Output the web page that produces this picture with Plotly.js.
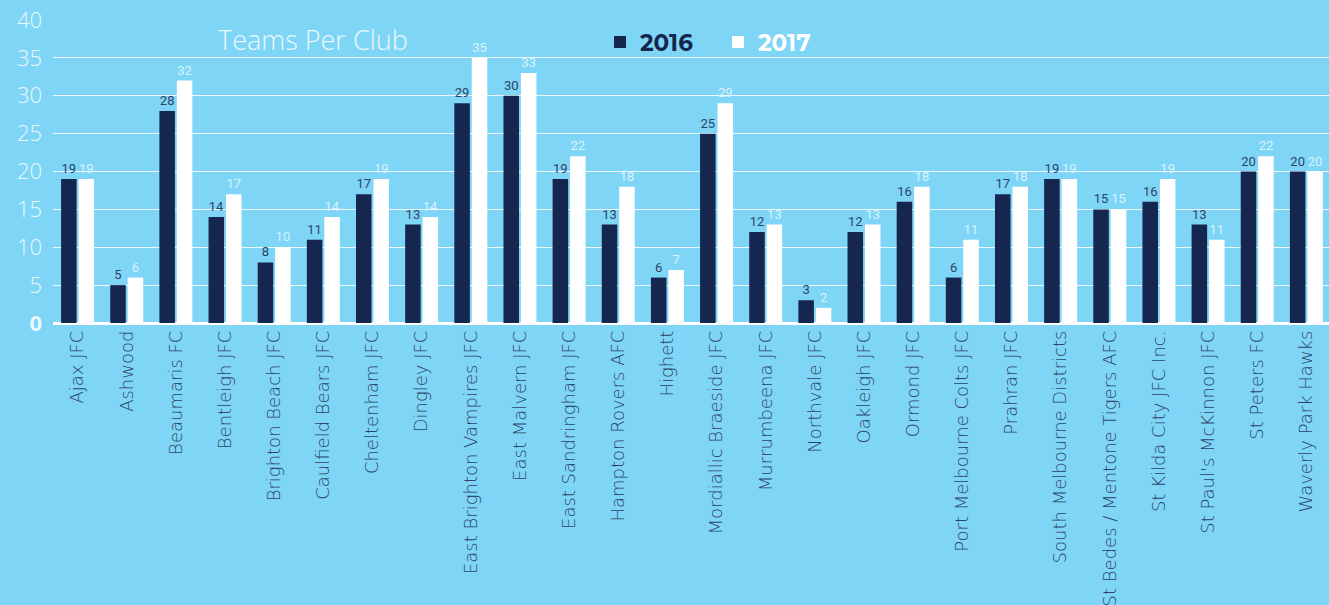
<!DOCTYPE html>
<html>
<head>
<meta charset="utf-8">
<script src="https://cdn.plot.ly/plotly-3.0.1.min.js"></script>
<style>html,body{margin:0;padding:0;background:#7fd5f6;}#chart{width:1329px;height:605px;}</style>
</head>
<body>
<div id="chart"></div>
<script>
const clubs = ["Ajax JFC","Ashwood","Beaumaris FC","Bentleigh JFC","Brighton Beach JFC","Caulfield Bears JFC","Cheltenham JFC","Dingley JFC","East Brighton Vampires JFC","East Malvern JFC","East Sandringham JFC","Hampton Rovers AFC","Highett","Mordiallic Braeside JFC","Murrumbeena JFC","Northvale JFC","Oakleigh JFC","Ormond JFC","Port Melbourne Colts JFC","Prahran JFC","South Melbourne Districts","St Bedes / Mentone Tigers AFC","St Kilda City JFC Inc.","St Paul's McKinnon JFC","St Peters FC","Waverly Park Hawks"];
const teams2016 = [19,5,28,14,8,11,17,13,29,30,19,13,6,25,12,3,12,16,6,17,19,15,16,13,20,20];
const teams2017 = [19,6,32,17,10,14,19,14,35,33,22,18,7,29,13,2,13,18,11,18,19,15,19,11,22,20];
const yTicks = [0,5,10,15,20,25,30,35,40];
const yTickText = ["<b>0</b>","5","10","15","20","25","30","35","40"];

const navy = "#15274f";
const bg = "#7fd5f6";

const traces = [
  {
    type: "bar", name: "<b>2016</b>", x: clubs, y: teams2016,
    marker: {color: navy},
    text: teams2016.map(String), textposition: "outside", cliponaxis: false,
    textfont: {family: "Roboto, sans-serif", size: 13, color: "#2d4468"}
  },
  {
    type: "bar", name: "<b><span style=\"color:#ffffff\">2017</span></b>", x: clubs, y: teams2017,
    marker: {color: "#ffffff"},
    text: teams2017.map(String), textposition: "outside", cliponaxis: false,
    textfont: {family: "Roboto, sans-serif", size: 13, color: "#d9f3fd"}
  }
];

const layout = {
  width: 1329, height: 605,
  paper_bgcolor: bg, plot_bgcolor: bg,
  margin: {l: 53, r: 0, t: 20, b: 282, pad: 0},
  barmode: "group", bargap: 0.29, bargroupgap: 0.11,
  font: {family: "'Open Sans', sans-serif"},
  title: {
    text: "Teams Per Club", x: 218/1329, xanchor: "left", xref: "container",
    y: 1 - 41/605, yanchor: "middle", yref: "container",
    font: {family: "'Open Sans', sans-serif", size: 27, color: "#eaf8fe", weight: 300}
  },
  showlegend: true,
  legend: {
    orientation: "h", x: 0.4287, xanchor: "left", y: 1 - 22/303, yanchor: "middle",
    bgcolor: "rgba(0,0,0,0)", font: {family: "Montserrat, 'Open Sans', sans-serif", size: 23, color: navy},
    itemwidth: 30, entrywidth: 73, entrywidthmode: "pixels", traceorder: "normal"
  },
  xaxis: {
    type: "category", range: [-0.5, 25.46], tickangle: -90,
    tickfont: {family: "'DejaVu Sans', sans-serif", size: 18, color: "#2b4467", weight: 200},
    showgrid: false, ticks: "", ticklabelstandoff: 3,
    showline: false, automargin: false, fixedrange: true
  },
  yaxis: {
    range: [0, 40], tickmode: "array", tickvals: yTicks, ticktext: yTickText,
    tickfont: {family: "'Open Sans', sans-serif", size: 22, color: "#eaf8fe", weight: 300},
    showgrid: true, gridcolor: "rgba(255,255,255,0.85)", gridwidth: 1,
    zeroline: true, zerolinecolor: "#ffffff", zerolinewidth: 3,
    ticks: "", ticklabelstandoff: 10, automargin: false, fixedrange: true
  }
};

Plotly.newPlot("chart", traces, layout, {displayModeBar: false, staticPlot: true});
</script>
</body>
</html>
